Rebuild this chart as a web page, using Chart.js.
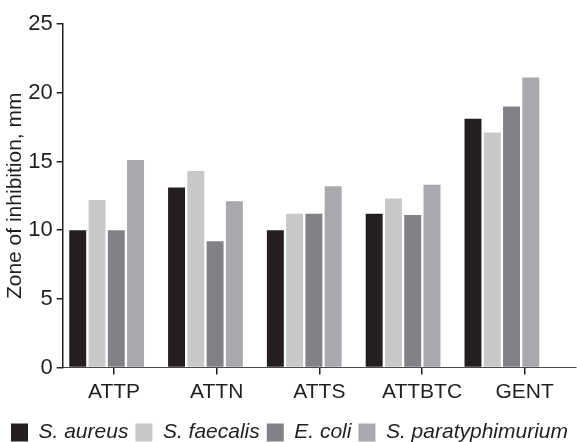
<!DOCTYPE html>
<html>
<head>
<meta charset="utf-8">
<script src="https://cdn.jsdelivr.net/npm/chart.js@4/dist/chart.umd.min.js"></script>
<style>
  html, body { margin: 0; padding: 0; background: #ffffff; }
  #wrap { width: 577px; height: 442px; }
</style>
</head>
<body>
<div id="wrap"><canvas id="chart"></canvas></div>
<script>
// Antibacterial screening: zone of inhibition per compound and organism
const categories = ['ATTP', 'ATTN', 'ATTS', 'ATTBTC', 'GENT'];
const seriesNames = ['S. aureus', 'S. faecalis', 'E. coli', 'S. paratyphimurium'];
const sAureus = [10.0, 13.1, 10.0, 11.2, 18.1];
const sFaecalis = [12.2, 14.3, 11.2, 12.3, 17.1];
const eColi = [10.0, 9.2, 11.2, 11.1, 19.0];
const sParatyphimurium = [15.1, 12.1, 13.2, 13.3, 21.1];
const yTicks = [0, 5, 10, 15, 20, 25];

const seriesValues = [sAureus, sFaecalis, eColi, sParatyphimurium];
const seriesColors = ['#231f20', '#c7c8ca', '#808285', '#a7a9ac'];
const ink = '#231f20';
const FONT = '"Liberation Sans", Arial, Helvetica, sans-serif';

const datasets = seriesValues.map((vals, s) => ({
  label: seriesNames[s],
  data: vals.map((v, i) => ({ x: i, y: v })),
  backgroundColor: seriesColors[s],
  borderWidth: 0,
  xAxisID: 'x',
  yAxisID: 'y',
  categoryPercentage: 0.78,
  barPercentage: 0.88
}));

new Chart(document.getElementById('chart'), {
  type: 'bar',
  data: { datasets },
  options: {
    responsive: true,
    maintainAspectRatio: false,
    animation: false,
    layout: { padding: { top: 24, right: 1, left: 3, bottom: -11 } },
    plugins: {
      tooltip: { enabled: false },
      legend: {
        position: 'bottom',
        align: 'center',
        title: { display: true, text: '', font: { size: 1 }, padding: { top: 0, bottom: 4 } },
        labels: {
          color: ink,
          font: { family: FONT, size: 21, style: 'italic' },
          boxWidth: 17,
          boxHeight: 18,
          padding: 7
        }
      }
    },
    scales: {
      // bar placement axis (one unit per compound)
      x: {
        type: 'linear',
        display: false,
        offset: false,
        grid: { offset: false },
        min: -0.445,
        max: 4.75,
        ticks: { stepSize: 1, includeBounds: false }
      },
      // labelled compound axis
      xl: {
        type: 'category',
        labels: categories,
        position: 'bottom',
        offset: true,
        grid: {
          display: true, offset: false, drawOnChartArea: false, drawTicks: true,
          tickLength: 7, tickColor: ink, tickWidth: 1.5, color: ink, lineWidth: 1.5
        },
        border: { display: true, color: '#4a4a4a', width: 1 },
        ticks: { color: ink, font: { family: FONT, size: 21 }, padding: 5, maxRotation: 0 }
      },
      y: {
        min: 0,
        max: 25,
        afterBuildTicks: (scale) => { scale.ticks = yTicks.map(v => ({ value: v })); },
        grid: { drawOnChartArea: false, tickLength: 6, color: ink, lineWidth: 1.5 },
        border: { color: ink, width: 1.5 },
        ticks: { color: ink, font: { family: FONT, size: 22 }, padding: 4 },
        title: {
          display: true,
          text: 'Zone of inhibition, mm',
          color: ink,
          font: { family: FONT, size: 21 },
          padding: { top: 0, bottom: -4 }
        }
      }
    }
  }
});
</script>
</body>
</html>
